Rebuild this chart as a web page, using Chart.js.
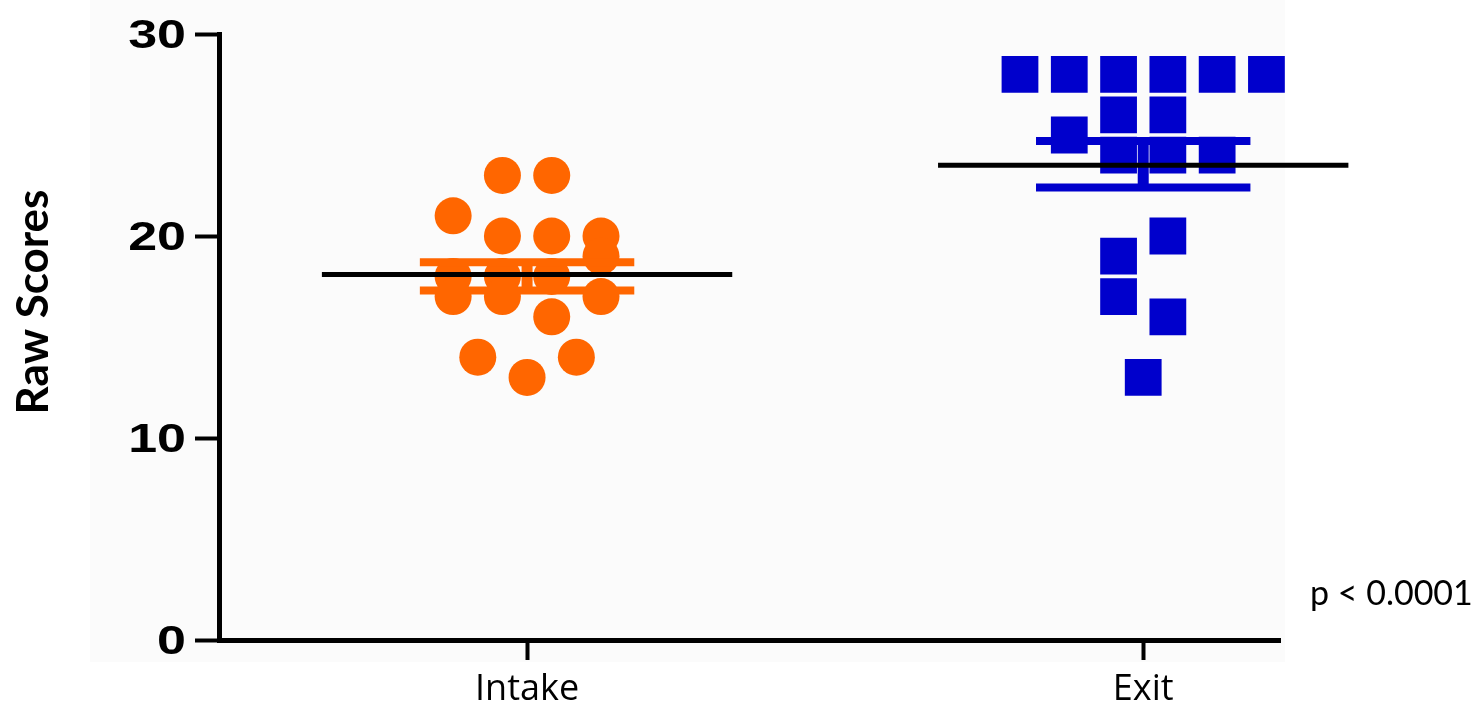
<!DOCTYPE html>
<html>
<head>
<meta charset="utf-8">
<script src="https://cdn.jsdelivr.net/npm/chart.js@4.4.1/dist/chart.umd.min.js"></script>
<style>
  html, body { margin: 0; padding: 0; background: #fff; }
  #wrap { width: 1482px; height: 704px; position: relative; }
</style>
</head>
<body>
<div id="wrap"><canvas id="chart"></canvas></div>
<script>
// values
const categories = ['Intake', 'Exit'];
const intakeScores = [23, 23, 21, 20, 20, 20, 19, 18, 18, 18, 17, 17, 17, 16, 14, 14, 13];
const intakeSlots  = [-0.5, 0.5, -1.5, -0.5, 0.5, 1.5, 1.5, -1.5, -0.5, 0.5, -1.5, -0.5, 1.5, 0.5, -1, 1, 0];
const exitScores = [28, 28, 28, 28, 28, 28, 26, 26, 25, 24, 24, 24, 20, 19, 17, 16, 13];
const exitSlots  = [-2.5, -1.5, -0.5, 0.5, 1.5, 2.5, -0.5, 0.5, -1.5, -0.5, 0.5, 1.5, 0.5, -0.5, -0.5, 0.5, 0];
const means = [18.1, 23.5];
const semUpper = [18.7, 24.7];
const semLower = [17.3, 22.4];
const yTicks = [0, 10, 20, 30];
const yTitle = 'Raw Scores';
const pLabel = 'p < 0.0001';

const colors = ['#ff6600', '#0000cc'];
const slotWidth = 0.08;   // jitter step in x units
const meanHalf = 0.333;
const capHalf = 0.174;

function points(scores, slots, pos) {
  return scores.map((v, i) => ({ x: pos + slots[i] * slotWidth, y: v }));
}

function seg(data, color, width, order) {
  return { data: data, showLine: true, borderColor: color, borderWidth: width, clip: false,
           pointRadius: 0, pointHoverRadius: 0, order: order, borderCapStyle: 'butt' };
}

const datasets = [
  { data: points(intakeScores, intakeSlots, 1), backgroundColor: colors[0], borderWidth: 0,
    pointStyle: 'circle', pointRadius: 18.5, order: 3, clip: false },
  { data: points(exitScores, exitSlots, 2), backgroundColor: colors[1], borderWidth: 0,
    pointStyle: 'rect', pointRadius: 26, order: 3, clip: false }
];
[1, 2].forEach((pos, i) => {
  datasets.push(seg([{ x: pos - capHalf, y: semUpper[i] }, { x: pos + capHalf, y: semUpper[i] }], colors[i], 8, 2));
  datasets.push(seg([{ x: pos - capHalf, y: semLower[i] }, { x: pos + capHalf, y: semLower[i] }], colors[i], 8, 2));
  datasets.push(seg([{ x: pos, y: semLower[i] }, { x: pos, y: semUpper[i] }], colors[i], 11, 2));
  datasets.push(seg([{ x: pos - meanHalf, y: means[i] }, { x: pos + meanHalf, y: means[i] }], '#000', 5, 1));
});

const extras = {
  id: 'extras',
  beforeDraw(chart) {
    const c = chart.ctx;
    c.save();
    c.fillStyle = '#ffffff';
    c.fillRect(0, 0, chart.width, chart.height);
    c.fillStyle = '#fbfbfb';
    c.fillRect(90, 0, 1195, 662);
    c.restore();
  },
  afterDraw(chart) {
    const c = chart.ctx;
    const y = chart.scales.y;
    c.save();
    c.fillStyle = '#000';
    // y tick labels, stretched wide like the original
    c.font = 'bold 40px "Liberation Sans"';
    c.textAlign = 'right';
    c.textBaseline = 'alphabetic';
    yTicks.forEach(v => {
      const py = y.getPixelForValue(v);
      c.save();
      c.translate(186, py + 14);
      c.scale(1.3, 1);
      c.fillText(String(v), 0, 0);
      c.restore();
    });
    // y title
    c.save();
    c.translate(48, 302);
    c.rotate(-Math.PI / 2);
    c.font = 'bold 44px Lato';
    c.textAlign = 'center';
    c.fillText(yTitle, 0, 0);
    c.restore();
    // p value
    c.font = '34px Lato';
    c.textAlign = 'left';
    c.fillText(pLabel, 1310, 605);
    c.restore();
  }
};

new Chart(document.getElementById('chart'), {
  type: 'scatter',
  data: { datasets: datasets },
  options: {
    responsive: true,
    maintainAspectRatio: false,
    animation: false,
    layout: { padding: { top: 34, right: 202, left: 0, bottom: 0 } },
    plugins: { legend: { display: false }, tooltip: { enabled: false } },
    scales: {
      x: {
        type: 'linear', min: 0.5, max: 2.222,
        afterFit: s => { s.height = 64; },
        afterBuildTicks: s => { s.ticks = [{ value: 1 }, { value: 2 }]; },
        grid: { display: true, drawOnChartArea: false, drawTicks: true, tickLength: 20, tickWidth: 4, color: '#000' },
        border: { display: true, color: '#000', width: 5 },
        ticks: {
          padding: 8, color: '#000', font: { family: 'Open Sans', size: 36 },
          callback: v => categories[v - 1] || ''
        }
      },
      y: {
        min: 0, max: 30,
        afterFit: s => { s.width = 219; },
        afterBuildTicks: s => { s.ticks = yTicks.map(v => ({ value: v })); },
        grid: { display: true, drawOnChartArea: false, drawTicks: true, tickLength: 24, tickWidth: 4, color: '#000' },
        border: { display: true, color: '#000', width: 5 },
        ticks: { display: false }
      }
    }
  },
  plugins: [extras]
});
</script>
</body>
</html>
